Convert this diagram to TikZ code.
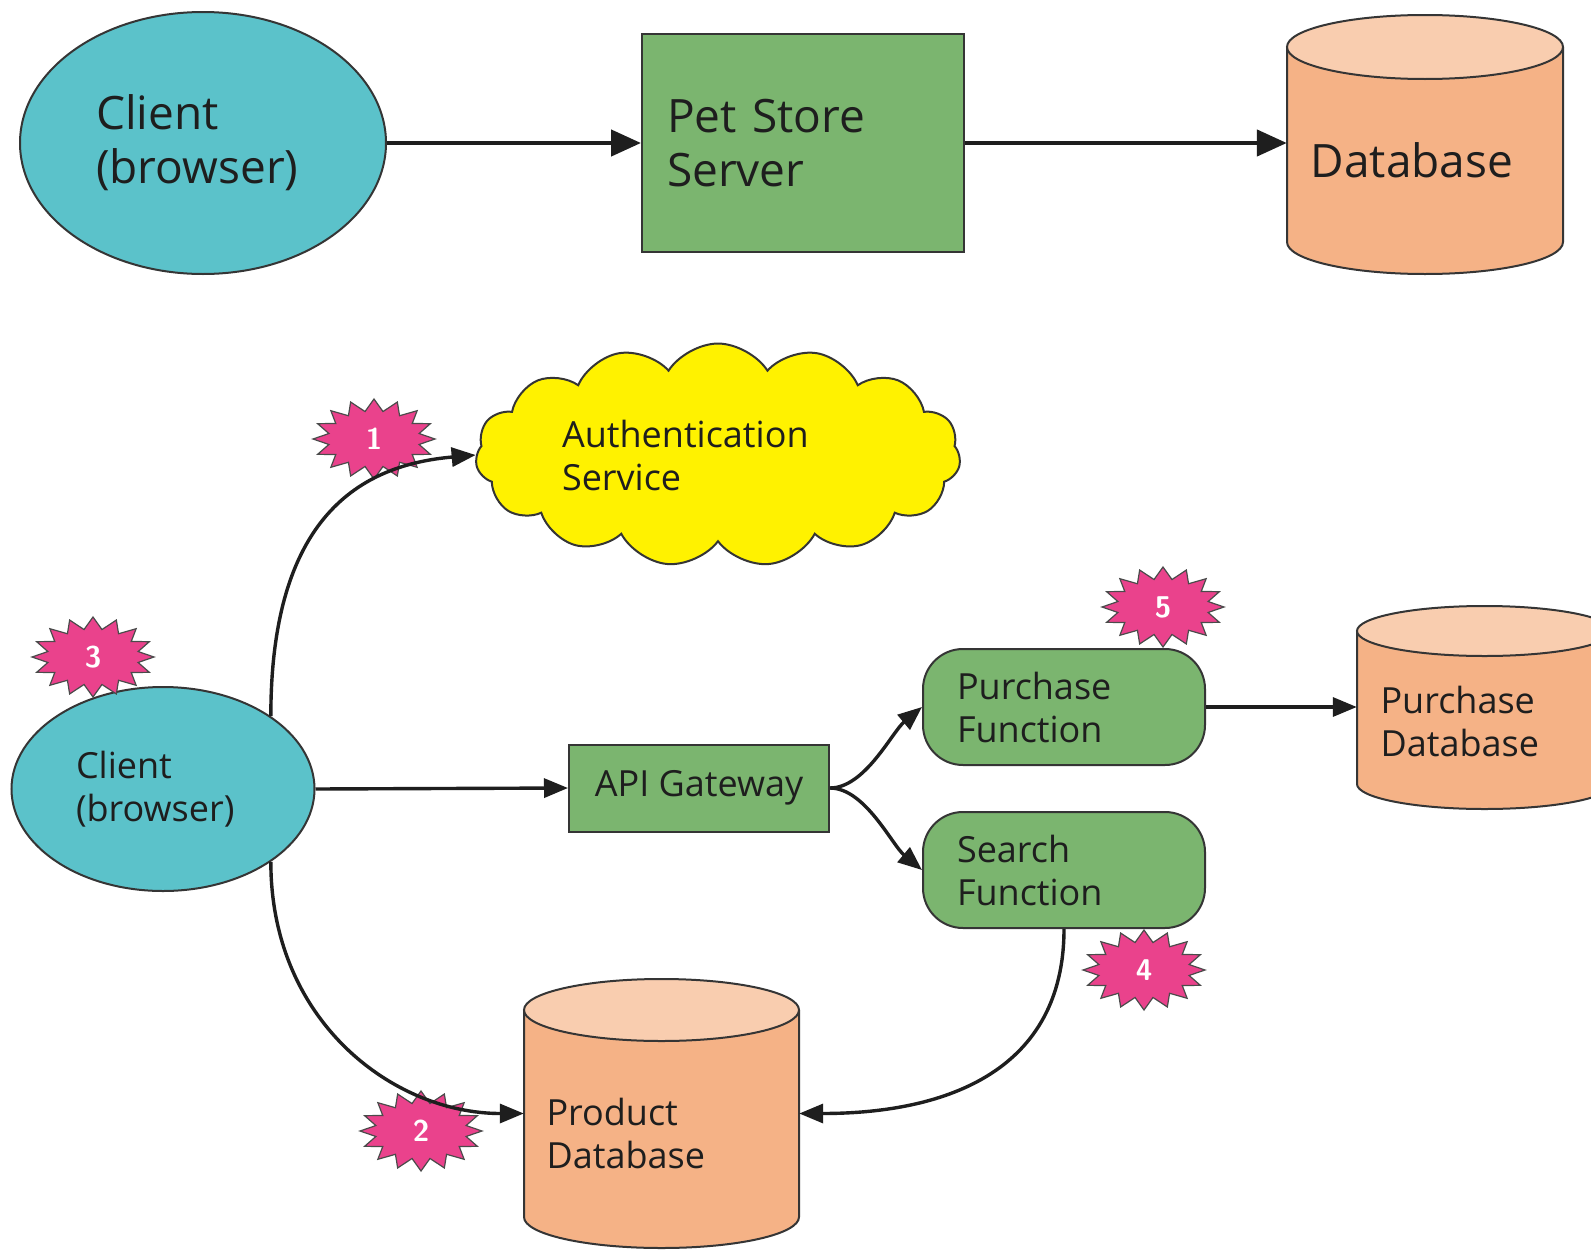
\documentclass[tikz,border=0pt]{standalone}
\usepackage{fontspec}
\setmainfont{Open Sans}
\usetikzlibrary{shapes.geometric,shapes.symbols,arrows.meta}
\definecolor{teal1}{HTML}{5BC2CA}
\definecolor{green1}{HTML}{7BB56F}
\definecolor{orange1}{HTML}{F5B286}
\definecolor{orange2}{HTML}{F9CDAF}
\definecolor{yellow1}{HTML}{FFF200}
\definecolor{pink1}{HTML}{EA428C}
\definecolor{ink}{HTML}{1E1E1E}
\newcommand\burstmark[3]{%
  \filldraw[burstshape, shift={#2}] (0:61 and 40)
    \foreach \a in {0,22.5,...,337.5}{ -- (\a+11.25:46 and 28) -- (\a+22.5:61 and 40) } -- cycle;
  \node[burstnum] (#1) at #2 {#3};
}
\newcommand\dbcyl[6]{% name, x1, ytop, x2, ybot, ry
  \pgfmathsetmacro\cxm{(#2+#4)/2}
  \pgfmathsetmacro\rxm{(#4-#2)/2}
  \fill[orange1] (\cxm,#5-#6) ellipse [x radius=\rxm, y radius=#6];
  \fill[orange1] (#2,#3+#6) rectangle (#4,#5-#6);
  \draw[shapeline] (#2,#3+#6) -- (#2,#5-#6) arc[start angle=180, end angle=0, x radius=\rxm, y radius=#6] -- (#4,#3+#6);
  \filldraw[shapeline, fill=orange2] (\cxm,#3+#6) ellipse [x radius=\rxm, y radius=#6];
  \node[inner sep=0, minimum width={#4-#2}, minimum height={#5-#3}] (#1) at (\cxm,{(#3+#5)/2}) {};
}
\begin{document}
\begin{tikzpicture}[x=1pt,y=-1pt,
  shapeline/.style={draw=ink!90, line width=2pt},
  bigtext/.style={font=\fontsize{46}{54}\selectfont, text=ink, align=left},
  smalltext/.style={font=\fontsize{36}{43}\selectfont, text=ink, align=left},
  clientbig/.style={shapeline, ellipse, fill=teal1, inner sep=0, minimum width=366, minimum height=262, bigtext, text width=214},
  serverbox/.style={shapeline, rectangle, fill=green1, inner sep=0, minimum width=322, minimum height=218, bigtext, text width=272},
  clientsmall/.style={shapeline, ellipse, fill=teal1, inner sep=0, minimum width=303, minimum height=204, smalltext, text width=174},
  gatebox/.style={shapeline, rectangle, fill=green1, inner sep=0, minimum width=260, minimum height=87, smalltext},
  funcbox/.style={shapeline, rectangle, rounded corners=40, fill=green1, inner sep=0, minimum width=282, minimum height=116, smalltext, text width=214},
  authcloud/.style={shapeline, cloud, cloud puffs=15, cloud puff arc=115, aspect=2.5, fill=yellow1, inner sep=0, minimum width=485, minimum height=180, smalltext, text width=312},
  burstshape/.style={draw=ink!80, line width=1.2pt, fill=pink1},
  burstnum/.style={text=white, font=\fontsize{30}{30}\selectfont\sffamily\bfseries, inner sep=0},
  bigarrow/.style={draw=ink, line width=4.5pt, -{Triangle[length=30pt,width=26pt]}},
  arrow/.style={draw=ink, line width=3.4pt, -{Triangle[length=24pt,width=19pt]}},
]
\useasboundingbox (0,0) rectangle (1591,1250);
\fill[white] (0,0) rectangle (1591,1250);

% ---------- top row ----------
\node[clientbig] (client1) at (203,143) {Client\\(browser)};
\node[serverbox] (server) at (803,143) {Pet Store\\Server};
\dbcyl{db}{1287}{15}{1563}{274}{32}
\node[bigtext, anchor=center] (dbtext) at (1412,160) {Database};
\draw[bigarrow] (client1.east) -- (server.west);
\draw[bigarrow] (server.east) -- (server.east -| db.west);

% ---------- bottom ----------
\node[authcloud] (auth) at (718,455) {Authentication\\Service};
\node[clientsmall] (client2) at (163,789) {Client\\(browser)};
\node[gatebox] (api) at (699,788) {API Gateway};
\node[funcbox] (pf) at (1064,707) {Purchase\\Function};
\node[funcbox] (sf) at (1064,870) {Search\\Function};
\dbcyl{pdb}{1357}{606}{1612}{809}{25}
\node[smalltext, anchor=west] (pdbtext) at (1377,721) {Purchase\\Database};
\dbcyl{prod}{524}{979}{799}{1248}{31}
\node[smalltext, anchor=west] (prodtext) at (543,1133) {Product\\Database};

% badges
\burstmark{s1}{(374,439)}{1}
\burstmark{s2}{(421,1131)}{2}
\burstmark{s3}{(93,657)}{3}
\burstmark{s4}{(1144,970)}{4}
\burstmark{s5}{(1163,607)}{5}

% connectors
\draw[arrow] (client2.north east) .. controls +(0,-200) and +(-115,10) .. (auth.west);
\draw[arrow] (client2.south east) .. controls +(0,160) and +(-130,0) .. (prod.west);
\draw[arrow] (client2.east) -- (api.west);
\draw[arrow] (api.east) .. controls +(35,0) and +(-30,25) .. (pf.west);
\draw[arrow] (api.east) .. controls +(35,0) and +(-30,-25) .. (sf.west);
\draw[arrow] (pf.east) -- (pf.east -| pdb.west);
\draw[arrow] (sf.south) .. controls +(0,140) and +(150,0) .. (prod.east);
\end{tikzpicture}
\end{document}
